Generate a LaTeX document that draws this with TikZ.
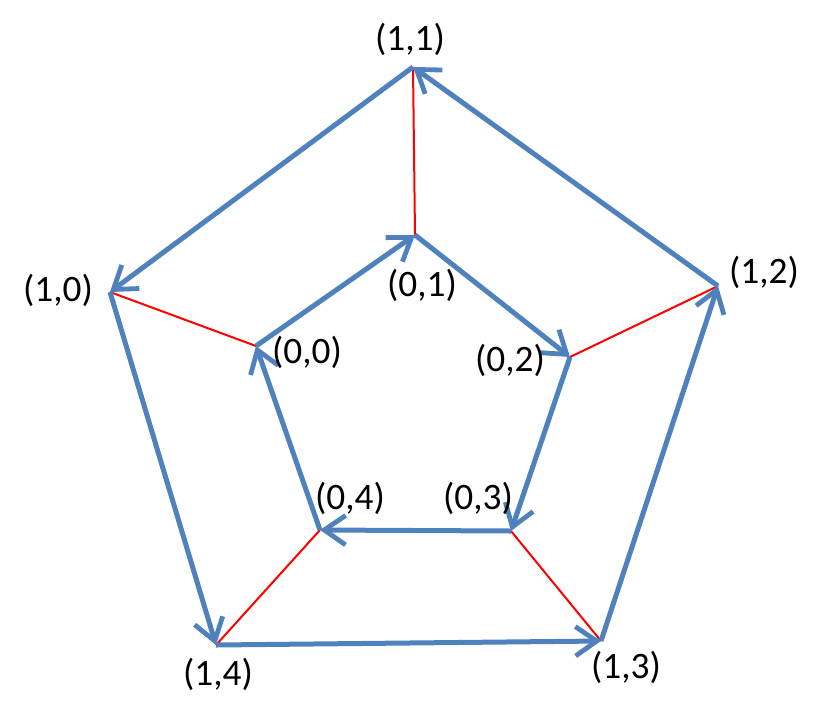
\documentclass[tikz,border=0pt]{standalone}
\usepackage{fontspec}
\setmainfont{Carlito}
\usetikzlibrary{arrows.meta}
\definecolor{edgeblue}{HTML}{4F81BD}
\definecolor{spokered}{HTML}{FF0000}

\tikzset{
    ring/.style={draw=edgeblue, line width=3.75pt, -{Straight Barb[length=16pt,width=22pt,line width=3.6pt]}},
    spoke/.style={draw=spokered, line width=1.5pt},
    vlabel/.style={font=\fontsize{28}{32}\selectfont, inner sep=0pt}
}

\begin{document}
\begin{tikzpicture}[x=0.75pt, y=-0.75pt]

    \useasboundingbox (0, 0) rectangle (823, 718);

    % Outer ring corners
    \coordinate (o0) at (110, 292);
    \coordinate (o1) at (413, 67);
    \coordinate (o2) at (718, 286);
    \coordinate (o3) at (601, 641);
    \coordinate (o4) at (216, 645);

    % Inner ring corners
    \coordinate (i0) at (256, 346);
    \coordinate (i1) at (415, 235);
    \coordinate (i2) at (570, 357);
    \coordinate (i3) at (511, 531);
    \coordinate (i4) at (320, 530);

    % Red spokes between rings
    \foreach \k in {0,1,2,3,4} {
        \draw[spoke] (i\k) -- (o\k);
    }

    % Outer ring, arrows
    \draw[ring] (o1) -- (o0);
    \draw[ring] (o0) -- (o4);
    \draw[ring] (o4) -- (o3);
    \draw[ring] (o3) -- (o2);
    \draw[ring] (o2) -- (o1);

    % Inner ring, arrows
    \draw[ring] (i0) -- (i1);
    \draw[ring] (i1) -- (i2);
    \draw[ring] (i2) -- (i3);
    \draw[ring] (i3) -- (i4);
    \draw[ring] (i4) -- (i0);

    % Labels
    \node[vlabel] (lo1) at (410, 39) {(1,1)};
    \node[vlabel] (lo0) at (58, 290) {(1,0)};
    \node[vlabel] (lo2) at (764, 272) {(1,2)};
    \node[vlabel] (lo3) at (626, 667) {(1,3)};
    \node[vlabel] (lo4) at (218, 674) {(1,4)};
    \node[vlabel] (li1) at (422, 285) {(0,1)};
    \node[vlabel] (li0) at (307, 352) {(0,0)};
    \node[vlabel] (li2) at (510, 360) {(0,2)};
    \node[vlabel] (li3) at (478, 498) {(0,3)};
    \node[vlabel] (li4) at (350, 498) {(0,4)};

\end{tikzpicture}
\end{document}
